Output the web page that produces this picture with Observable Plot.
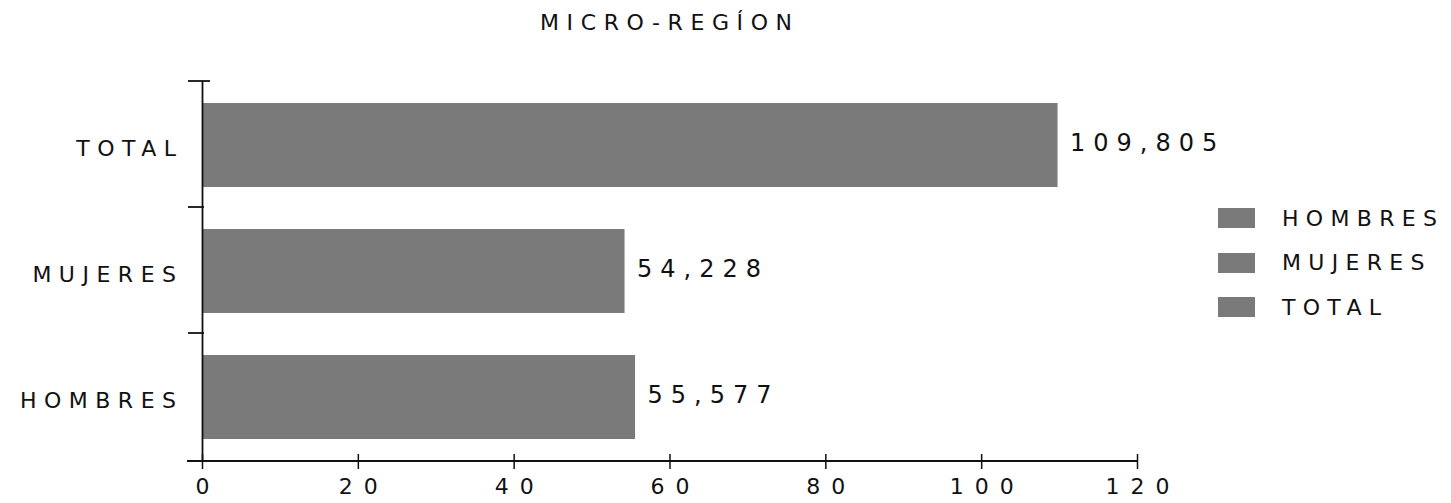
<!DOCTYPE html>
<html>
<head>
<meta charset="utf-8">
<script src="https://cdn.jsdelivr.net/npm/d3@7"></script>
<script src="https://cdn.jsdelivr.net/npm/@observablehq/plot@0.6"></script>
<style>
  html, body { margin: 0; padding: 0; background: #fff; }
  #wrap { position: relative; width: 1451px; height: 503px; overflow: hidden; font-family: "DejaVu Sans", sans-serif; color: #111; }
  #title { position: absolute; left: 540px; top: 12px; font-size: 22px; line-height: 22px; letter-spacing: 7.6px; white-space: nowrap; }
  #chart { position: absolute; left: 0; top: 48px; }
  .lg { position: absolute; left: 1218px; height: 20px; display: flex; align-items: center; white-space: nowrap; }
  .sw { width: 37px; height: 20px; }
  .lt { margin-left: 27px; font-size: 22px; letter-spacing: 7.3px; }
</style>
</head>
<body>
<div id="wrap">
  <div id="title"></div>
  <div id="chart"></div>
  <div id="legend"></div>
</div>
<script>
const title = "MICRO-REGÍON";
const categories = ["HOMBRES", "MUJERES", "TOTAL"];
const values = [55.577, 54.228, 109.805];           // miles
const valueLabels = ["55,577", "54,228", "109,805"];
const xTicks = [0, 20, 40, 60, 80, 100, 120];
const legendLabels = ["HOMBRES", "MUJERES", "TOTAL"];

const barColor = "#7a7a7a";
const ink = "#111";

document.getElementById("title").textContent = title;

const data = categories.map((c, i) => ({cat: c, value: values[i], label: valueLabels[i]}));

const plot = Plot.plot({
  width: 1451,
  height: 455,
  marginTop: 33,
  marginBottom: 42,
  marginLeft: 202,
  marginRight: 314,
  style: {fontFamily: '"DejaVu Sans", sans-serif', color: ink, background: "#fff", overflow: "visible"},
  x: {domain: [0, 120], label: null},
  y: {domain: categories.slice().reverse(), padding: 0, label: null},
  marks: [
    Plot.barX(data, {x: "value", y: "cat", fill: barColor, insetTop: 21, insetBottom: 21}),
    Plot.ruleX([0], {stroke: ink, strokeWidth: 1.8}),
    Plot.axisX({ticks: xTicks, tickSize: 15, dy: -7, tickFormat: () => "", stroke: ink, strokeWidth: 1.5, label: null}),
    Plot.axisX({ticks: xTicks, tickSize: 0, tickPadding: 17, fontSize: 22, dx: 5.5, fill: ink, label: null}),
    Plot.axisY({tickSize: 0, tickPadding: 19, fontSize: 22, dy: 3, fill: ink, label: null}),
    Plot.text(data, {x: "value", y: "cat", text: "label", textAnchor: "start", dx: 12, dy: -2, fontSize: 24, fill: ink})
  ]
});

document.getElementById("chart").appendChild(plot);

const svg = d3.select(plot);
svg.selectAll('g[aria-label="y-axis tick label"] text').style("letter-spacing", "7.5px");
svg.selectAll('g[aria-label="x-axis tick label"] text').style("letter-spacing", "11px");
svg.selectAll('g[aria-label="text"] text').style("letter-spacing", "8px");

// axis line and category boundary ticks from the plot's scales
const sx = plot.scale("x"), sy = plot.scale("y");
const x0 = sx.apply(0), x1 = sx.apply(120);
const yTop = sy.range[0], yBot = sy.range[1], step = sy.step;
const g = svg.append("g").attr("stroke", ink).attr("fill", "none");
g.append("line").attr("x1", x0 - 15).attr("x2", x1).attr("y1", yBot).attr("y2", yBot).attr("stroke-width", 1.8);
for (let i = 0; i < categories.length; i++) {
  const yy = yTop + i * step;
  g.append("line").attr("x1", x0 - 14).attr("x2", x0 + (i === 0 ? 8 : 2)).attr("y1", yy).attr("y2", yy).attr("stroke-width", 1.8);
}

// legend
const legend = document.getElementById("legend");
legendLabels.forEach((lab, i) => {
  const row = document.createElement("div");
  row.className = "lg";
  row.style.top = (208 + i * 44.5) + "px";
  const sw = document.createElement("div");
  sw.className = "sw";
  sw.style.background = barColor;
  const t = document.createElement("span");
  t.className = "lt";
  t.textContent = lab;
  row.appendChild(sw);
  row.appendChild(t);
  legend.appendChild(row);
});
</script>
</body>
</html>
